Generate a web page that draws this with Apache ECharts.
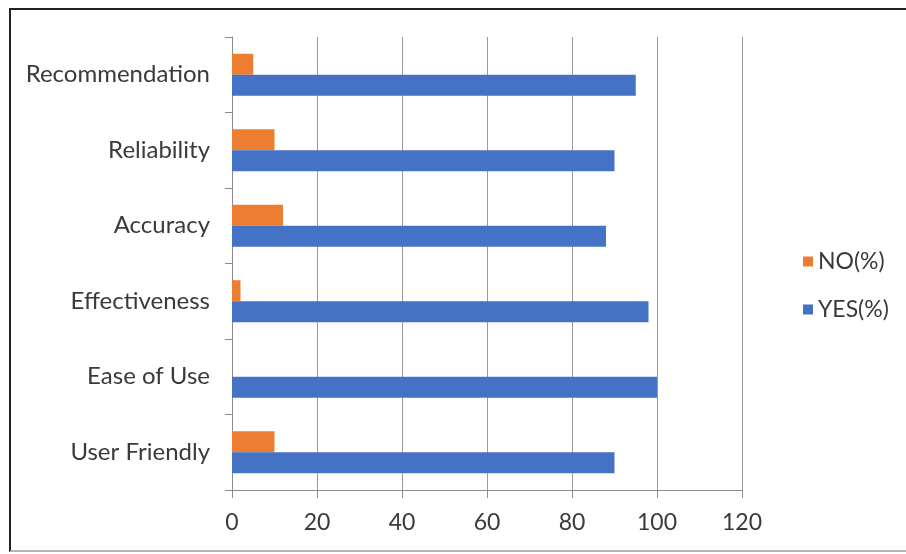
<!DOCTYPE html>
<html>
<head>
<meta charset="utf-8">
<script src="https://cdn.jsdelivr.net/npm/echarts@6/dist/echarts.min.js"></script>
<style>
    html, body {
        margin: 0;
        padding: 0;
        background: #fff;
        overflow: hidden;
    }
    .frame {
        position: absolute;
        left: 9px;
        top: 8px;
        width: 897px;
        height: 544px;
        border-top: 2px solid #222;
        border-left: 2px solid #222;
        border-bottom: 2px solid #b5b5b5;
        box-sizing: border-box;
    }
    #chart {
        position: absolute;
        left: 0;
        top: 0;
        width: 906px;
        height: 554px;
    }
</style>
</head>
<body>
<div class="frame"></div>
<div id="chart"></div>
<script>
// categories from bottom to top, like the reference
const categories = ['User Friendly', 'Ease of Use', 'Effectiveness', 'Accuracy', 'Reliability', 'Recommendation'];
const yesValues = [90, 100, 98, 88, 90, 95];
const noValues = [10, 0, 2, 12, 10, 5];
const xTicks = { min: 0, max: 120, interval: 20 };

const labelFont = 'Lato, Open Sans, sans-serif';

const myChart = echarts.init(document.getElementById('chart'));
const option = {
    animation: false,
    grid: {
        left: 232,
        right: 164,
        top: 37,
        bottom: 64
    },
    legend: {
        orient: 'vertical',
        left: 798,
        top: 245,
        itemWidth: 10,
        itemHeight: 10,
        itemGap: 25,
        icon: 'rect',
        data: ['NO(%)', 'YES(%)'],
        textStyle: {
            fontSize: 23,
            color: '#3a3a3a',
            fontFamily: labelFont
        }
    },
    xAxis: {
        type: 'value',
        min: xTicks.min,
        max: xTicks.max,
        interval: xTicks.interval,
        axisLine: { show: true, lineStyle: { color: '#8c8c8c', width: 1 } },
        axisTick: { show: true, length: 8, lineStyle: { color: '#8c8c8c' } },
        splitLine: { show: true, lineStyle: { color: '#9a9a9a', width: 1 } },
        axisLabel: {
            margin: 21,
            fontSize: 23,
            color: '#3a3a3a',
            fontFamily: labelFont
        }
    },
    yAxis: {
        type: 'category',
        data: categories,
        axisLine: { show: true, lineStyle: { color: '#8c8c8c', width: 1 } },
        axisTick: { show: true, length: 7, lineStyle: { color: '#8c8c8c' } },
        splitLine: { show: false },
        axisLabel: {
            margin: 22,
            fontSize: 24,
            color: '#3a3a3a',
            fontFamily: labelFont
        }
    },
    series: [
        {
            name: 'NO(%)',
            type: 'bar',
            data: noValues,
            barWidth: 21,
            barGap: '0%',
            itemStyle: { color: '#ED7D31' }
        },
        {
            name: 'YES(%)',
            type: 'bar',
            data: yesValues,
            barWidth: 21,
            barGap: '0%',
            itemStyle: { color: '#4472C4' }
        }
    ]
};
myChart.setOption(option);
</script>
</body>
</html>
